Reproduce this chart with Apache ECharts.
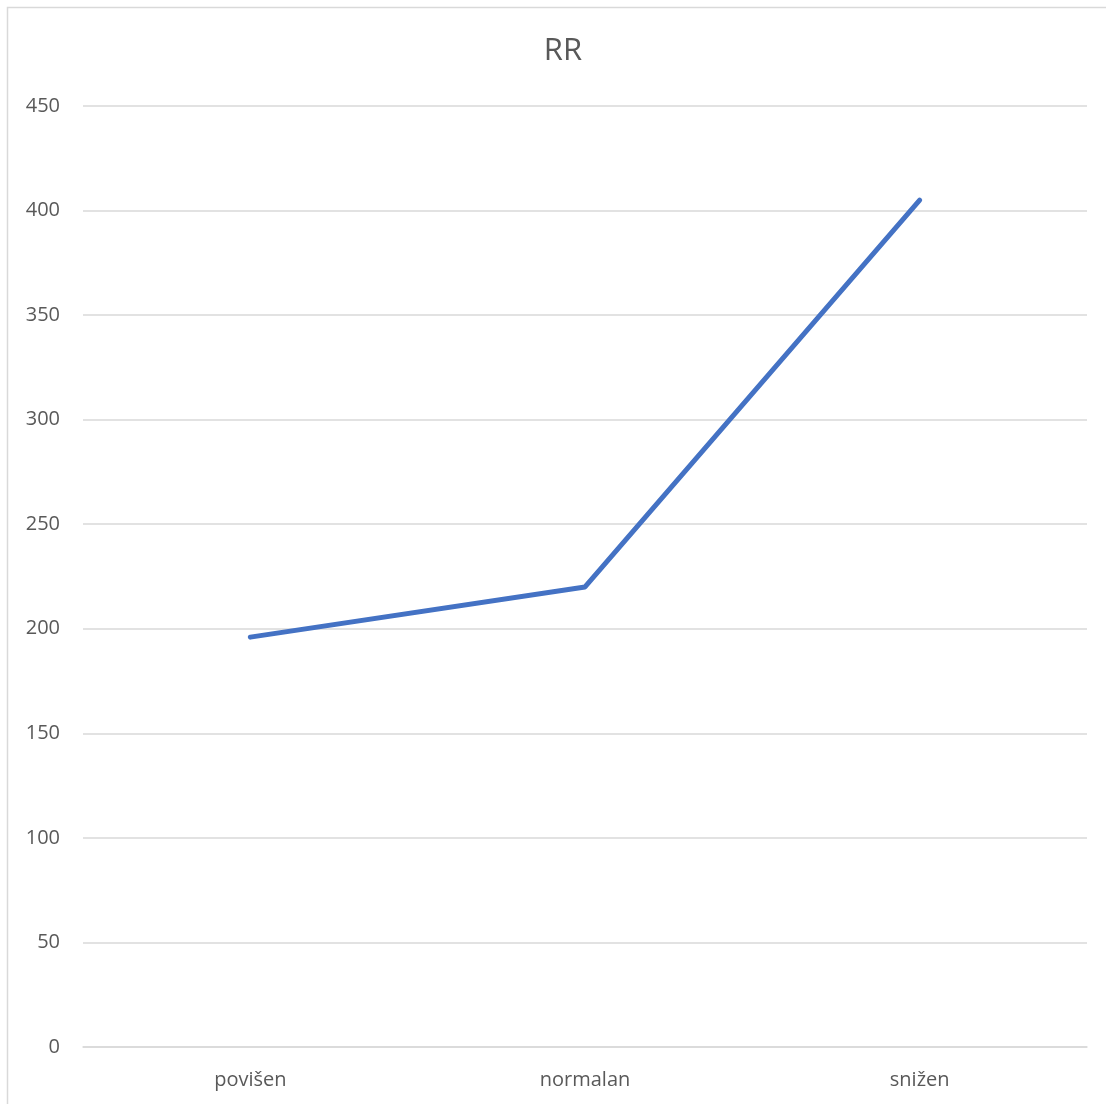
<!DOCTYPE html>
<html>
<head>
<meta charset="utf-8">
<script src="https://cdn.jsdelivr.net/npm/echarts@6/dist/echarts.min.js"></script>
<style>
html,body{margin:0;padding:0;background:#fff;}
#chart{width:1106px;height:1104px;}
</style>
</head>
<body>
<div id="chart"></div>
<script>
const categories = ['povišen', 'normalan', 'snižen'];
const rrValues = [196, 220, 405];
const yTicks = { min: 0, max: 450, interval: 50 };

const chart = echarts.init(document.getElementById('chart'));
const font = '"Open Sans", "Noto Sans", sans-serif';
chart.setOption({
  animation: false,
  backgroundColor: '#fff',
  graphic: [{
    type: 'rect',
    shape: { x: 7.5, y: 7.5, width: 1110, height: 1110 },
    style: { fill: 'none', stroke: '#d9d9d9', lineWidth: 1.5 },
    silent: true
  }],
  title: {
    text: 'RR',
    left: 558,
    top: 31,
    textAlign: 'center',
    textStyle: { fontFamily: font, fontSize: 31, fontWeight: 'normal', color: '#595959' }
  },
  grid: { left: 83, right: 19, top: 106, bottom: 57, containLabel: false },
  xAxis: {
    type: 'category',
    data: categories,
    boundaryGap: true,
    axisLine: { lineStyle: { color: '#d9d9d9', width: 1.5 } },
    axisTick: { show: false },
    axisLabel: { margin: 23, fontFamily: font, fontSize: 20, color: '#595959' }
  },
  yAxis: {
    type: 'value',
    min: yTicks.min,
    max: yTicks.max,
    interval: yTicks.interval,
    axisLine: { show: false },
    axisTick: { show: false },
    splitLine: { lineStyle: { color: '#d9d9d9', width: 1.5 } },
    axisLabel: { margin: 23, fontFamily: font, fontSize: 20, color: '#595959' }
  },
  series: [{
    type: 'line',
    data: rrValues,
    symbol: 'none',
    lineStyle: { color: '#4472C4', width: 5, cap: 'round', join: 'round' }
  }]
});
</script>
</body>
</html>
